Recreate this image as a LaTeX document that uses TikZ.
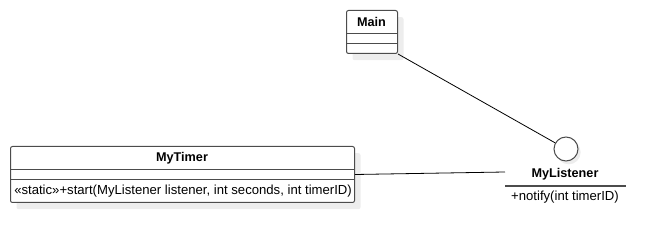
\documentclass[tikz,border=0pt]{standalone}
\usepackage{fontspec}
\setmainfont{Liberation Sans}
\usetikzlibrary{calc,positioning,shadows}

\tikzset{
    classbox/.style={draw=black!70, fill=white, line width=0.75pt, rounded corners=1.5pt,
        inner sep=0pt, anchor=north west,
        drop shadow={shadow xshift=4.5pt, shadow yshift=-5pt, fill=black!7, opacity=1}},
    classname/.style={font=\fontsize{9.5}{11}\selectfont\bfseries, inner sep=0pt},
    member/.style={font=\fontsize{9.85}{11}\selectfont, inner sep=0pt},
    sep/.style={draw=black!70, line width=0.75pt},
    lollipop/.style={circle, draw=black!70, fill=white, line width=0.75pt, minimum size=24*0.75pt, inner sep=0pt,
        drop shadow={shadow xshift=2pt, shadow yshift=-2.5pt, fill=black!7, opacity=1}},
    link/.style={draw=black, line width=0.6pt}
}

\begin{document}
\begin{tikzpicture}[x=0.75pt, y=-0.75pt]
    \useasboundingbox (0,0) rectangle (665,249);

    % class Main
    \node[classbox, minimum width=51*0.75pt, minimum height=43*0.75pt] (main) at (346,10) {};
    \node[classname] (main-name) at (371.5,21.5) {Main};
    \draw[sep] ($(main.north west)+(0,24)$) -- ($(main.north east)+(0,24)$);
    \draw[sep] ($(main.north west)+(0,34)$) -- ($(main.north east)+(0,34)$);

    % class MyTimer
    \node[classbox, minimum width=344*0.75pt, minimum height=56*0.75pt] (timer) at (10,146) {};
    \node[classname] (timer-name) at (182,158) {MyTimer};
    \draw[sep] ($(timer.north west)+(0,24)$) -- ($(timer.north east)+(0,24)$);
    \draw[sep] ($(timer.north west)+(0,34)$) -- ($(timer.north east)+(0,34)$);
    \node[member, anchor=west] (timer-start) at (14,191)
        {«static»+start(MyListener listener, int seconds, int timerID)};

    % interface MyListener (lollipop)
    \node[lollipop] (listener) at (566,149) {};
    \node[classname] (listener-name) at (565,174) {MyListener};
    \draw[draw=black!70, line width=1.2pt] (505,186) -- (626,186);
    \node[member] (listener-notify) at (565,197) {+notify(int timerID)};
    \coordinate (listener-w) at (505,172);

    % connectors
    \draw[link] (main.south east) -- (listener);
    \draw[link] (timer.east) -- (listener-w);
\end{tikzpicture}
\end{document}
